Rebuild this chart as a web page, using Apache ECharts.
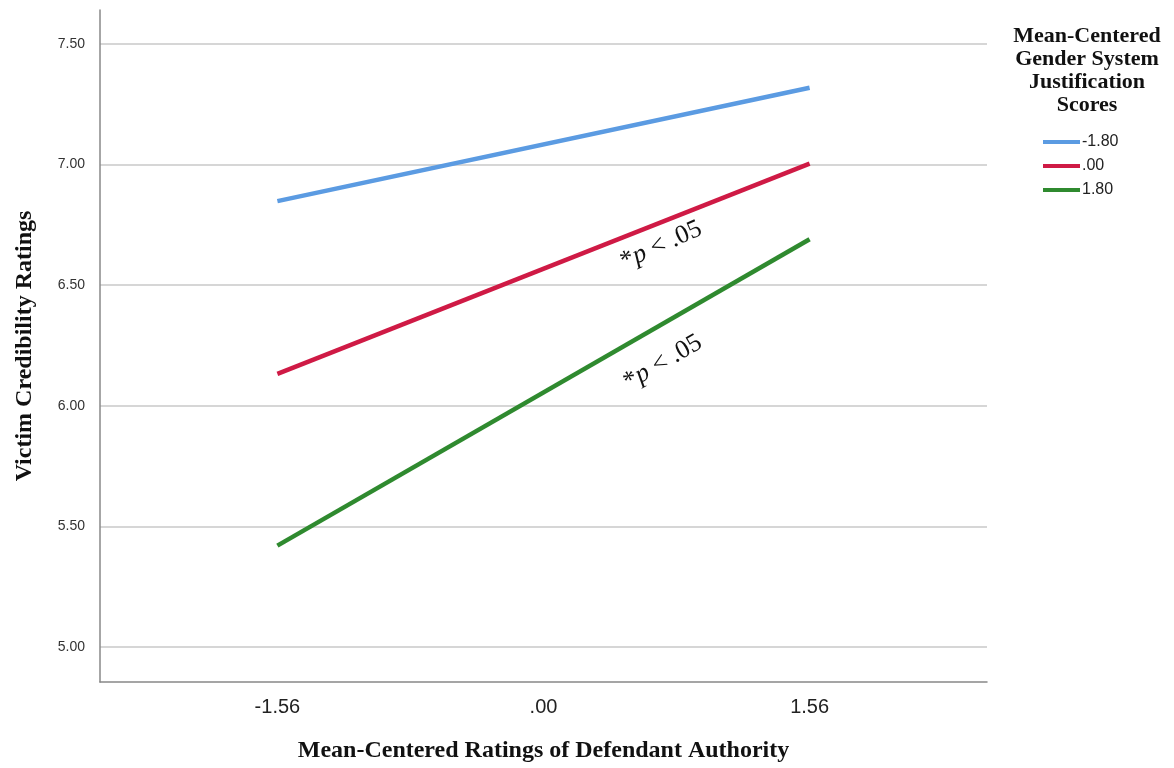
<!DOCTYPE html>
<html>
<head>
<meta charset="utf-8">
<script src="https://cdn.jsdelivr.net/npm/echarts@6/dist/echarts.min.js"></script>
<style>html,body{margin:0;padding:0;background:#fff}#c{width:1174px;height:768px}</style>
</head>
<body>
<div id="c"></div>
<script>
const xTickValues = [-1.56, 0, 1.56];
const xTickLabels = ['-1.56', '.00', '1.56'];
const xPoints = [-1.56, 1.56];
const yTickValues = [5.0, 5.5, 6.0, 6.5, 7.0, 7.5];
const seriesNames = ['-1.80', '.00', '1.80'];
const lowSJ = [6.848, 7.318];
const meanSJ = [6.132, 7.003];
const highSJ = [5.42, 6.69];
const seriesColors = ['#5b9be2', '#cf1a45', '#2f8a2f'];
const annotations = [
  { series: 1, coord: [0.69, 6.665], rotate: 24 },
  { series: 2, coord: [0.70, 6.18], rotate: 30 }
];

const chart = echarts.init(document.getElementById('c'));
const seriesData = [lowSJ, meanSJ, highSJ];
const annText = '{a|*}{i|p}{a| < .05}';
const series = seriesNames.map((name, i) => {
  const s = {
    name: name,
    type: 'line',
    data: xPoints.map((x, j) => [x, seriesData[i][j]]),
    showSymbol: false,
    symbol: 'none',
    lineStyle: { width: 4.5, color: seriesColors[i] },
    itemStyle: { color: seriesColors[i] },
    silent: true,
    z: 3
  };
  const anns = annotations.filter(a => a.series === i);
  if (anns.length) {
    s.markPoint = {
      symbol: 'circle',
      symbolSize: 0,
      silent: true,
      data: anns.map(a => ({
        coord: a.coord,
        label: {
          show: true,
          position: 'inside',
          rotate: a.rotate,
          formatter: annText,
          rich: {
            a: { fontFamily: 'Liberation Serif', fontSize: 26, color: '#111' },
            i: { fontFamily: 'Liberation Serif', fontSize: 26, fontStyle: 'italic', color: '#111' }
          }
        }
      }))
    };
  }
  return s;
});

chart.setOption({
  animation: false,
  backgroundColor: '#fff',
  grid: { left: 100, right: 187, top: 10, bottom: 86, outerBoundsMode: 'none', containLabel: false },
  title: {
    text: 'Mean-Centered\nGender System\nJustification\nScores',
    left: 1082,
    top: 20,
    textAlign: 'center',
    textStyle: { fontFamily: 'Liberation Serif', fontWeight: 'bold', fontSize: 22, lineHeight: 23, color: '#111' }
  },
  legend: {
    orient: 'vertical',
    left: 1038,
    top: 129,
    itemWidth: 37,
    itemHeight: 4,
    itemGap: 8,
    icon: 'rect',
    data: seriesNames,
    textStyle: { fontFamily: 'Liberation Sans', fontSize: 16, color: '#222', padding: [0, 0, 0, -3] }
  },
  xAxis: {
    type: 'value',
    min: -2.6,
    max: 2.6,
    name: 'Mean-Centered Ratings of Defendant Authority',
    nameLocation: 'middle',
    nameGap: 57,
    nameTextStyle: { fontFamily: 'Liberation Serif', fontWeight: 'bold', fontSize: 24, color: '#111' },
    axisLine: { show: true, onZero: false, lineStyle: { color: '#888', width: 1.5 } },
    axisTick: { show: false, customValues: xTickValues },
    splitLine: { show: false },
    axisLabel: {
      customValues: xTickValues,
      margin: 15,
      fontFamily: 'Liberation Sans',
      fontSize: 20,
      color: '#222',
      formatter: v => xTickLabels[xTickValues.findIndex(t => Math.abs(t - v) < 1e-6)]
    }
  },
  yAxis: {
    type: 'value',
    min: 4.855,
    max: 7.64,
    name: 'Victim Credibility Ratings',
    nameLocation: 'middle',
    nameGap: 63,
    nameTextStyle: { fontFamily: 'Liberation Serif', fontWeight: 'bold', fontSize: 24, color: '#111' },
    axisLine: { show: true, onZero: false, lineStyle: { color: '#888', width: 1.5 } },
    axisTick: { show: false, customValues: yTickValues },
    splitLine: { show: true, lineStyle: { color: '#c8c8c8', width: 1.5 } },
    axisLabel: {
      customValues: yTickValues,
      margin: 15,
      fontFamily: 'Liberation Sans',
      fontSize: 14,
      color: '#333',
      formatter: v => v.toFixed(2)
    }
  },
  series: series
});
</script>
</body>
</html>
